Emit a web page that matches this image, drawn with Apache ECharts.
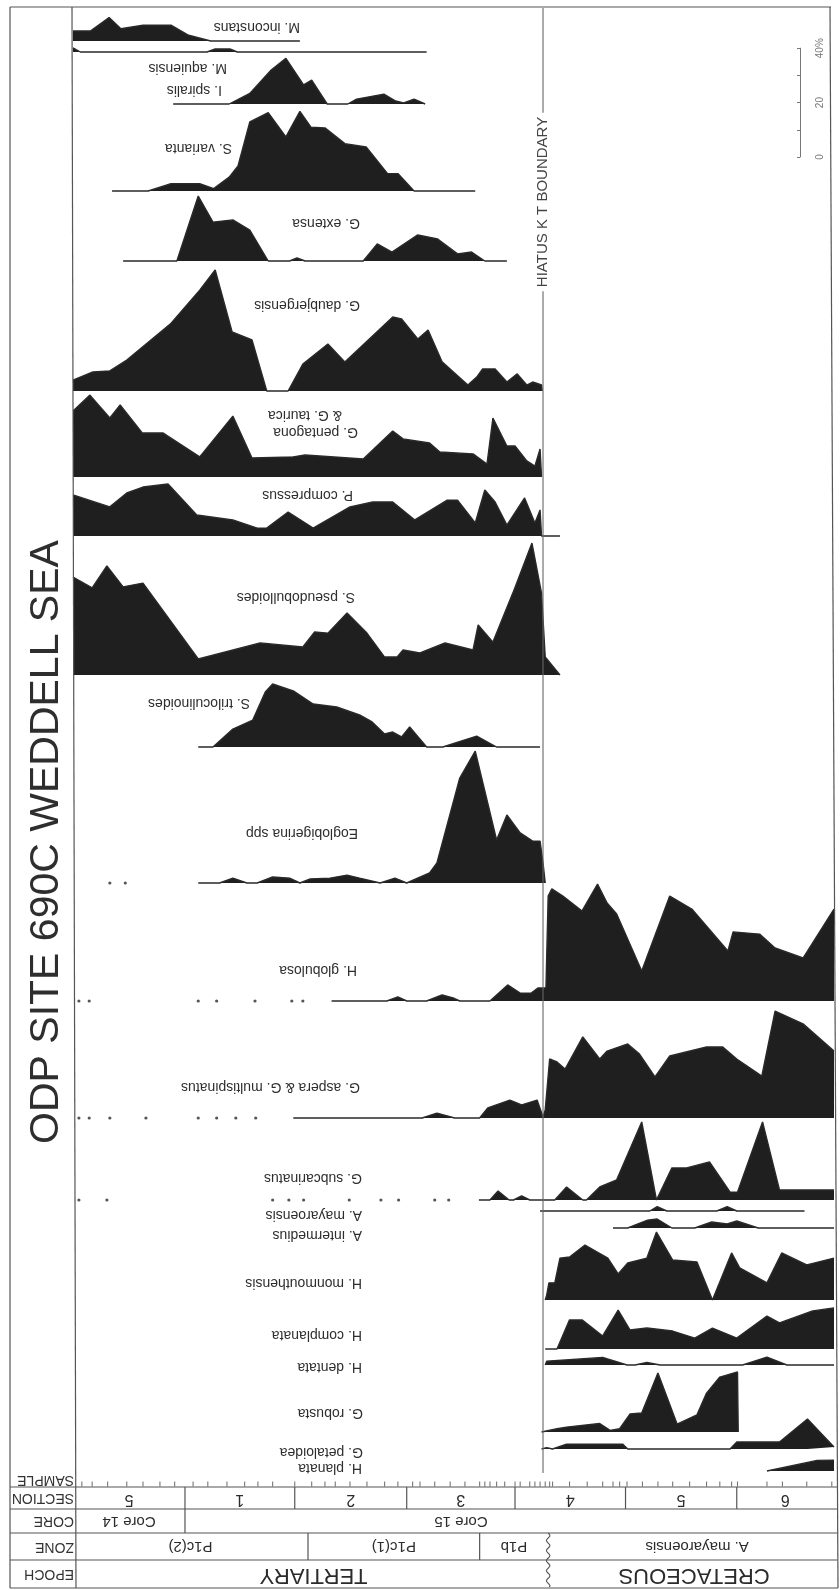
<!DOCTYPE html>
<html>
<head>
<meta charset="utf-8">
<script src="https://cdn.jsdelivr.net/npm/echarts@6/dist/echarts.min.js"></script>
<style>
html,body{margin:0;padding:0;background:#fff}
#c{width:840px;height:1590px}
</style>
</head>
<body>
<div id="c"></div>
<script>
// Depth: cm below the top of Core 14 section 5 (150 cm per section). Abundance: % of assemblage.
const inconstans = [[0,3.7],[24,3.7],[49,8.6],[65,4.5],[95,5.8],[133,5.8],[157,2.1],[187,0],[308,0]];
const aquiensis = [[0,1.5],[10,0],[182,0],[193,1.1],[213,1.1],[223,0],[480,0]];
const spiralis = [[136,0],[212,0],[240,3.9],[269,12.5],[289,16.8],[313,7],[324,8.8],[345,0],[373,0],[385,1.8],[422,3.6],[438,1.1],[449,0.4],[463,1.8],[478,0]];
const varianta = [[53,0],[102,0],[133,2.7],[172,2.7],[191,0.9],[212,5.1],[224,9.2],[240,25.4],[265,28.8],[289,19.9],[308,29.3],[323,23.5],[342,23.2],[369,17.4],[398,16.2],[427,6.4],[441,6.4],[463,0],[546,0]];
const extensa = [[68,0],[141,0],[170,23.9],[190,14.3],[217,15.1],[240,11.4],[265,0],[294,0],[304,1.1],[315,0],[394,0],[413,6.3],[433,3.3],[468,9.6],[495,8.1],[522,2.6],[541,3.3],[559,0],[589,0]];
const daubjergensis = [[0,4],[27,7],[50,7.4],[73,11.4],[132,24.6],[172,37.1],[193,44.5],[216,21.7],[243,18.8],[263,0],[292,0],[312,9.9],[346,17.3],[369,10.7],[434,27.2],[446,26.5],[468,19.1],[482,22.4],[501,10.7],[536,2.2],[548,5.1],[556,8.1],[573,8.1],[589,3.3],[603,6.3],[616,2.2],[624,3.3],[636,2.2],[637,0]];
const pentagona = [[0,24.3],[23,30.1],[50,21.7],[64,26.5],[94,16.2],[122,16.2],[172,7.4],[217,22.4],[243,7],[299,7.4],[315,8.1],[394,6.6],[434,16.9],[448,14],[484,12.5],[498,9.2],[543,8.5],[562,4.8],[570,21.7],[589,11.4],[600,11.4],[616,5.9],[627,4],[634,10.3],[636,0]];
const compressus = [[0,15.1],[50,10.7],[73,15.8],[95,18],[129,19.1],[168,7.7],[217,5.9],[250,2.9],[263,2.9],[292,8.8],[326,2.9],[376,10.7],[407,12.5],[434,12.5],[464,5.9],[508,13.2],[522,13.2],[546,4.8],[559,16.9],[573,12.5],[589,4],[613,14],[627,4.8],[634,9.6],[636,0],[661,0]];
const pseudobulloides = [[0,36],[26,32],[46,40.1],[68,32.4],[95,33.8],[170,5.9],[254,11.8],[312,10.3],[328,15.8],[346,15.4],[372,22.8],[399,15.4],[423,6.6],[440,6.6],[448,9.2],[471,8.1],[505,11.8],[543,9.2],[550,18.4],[570,12.1],[597,30.1],[623,48.5],[636,30.1],[641,6.6],[661,0]];
const triloculinoides = [[170,0],[190,0],[217,6.6],[244,9.9],[261,20.2],[271,23.2],[300,20.5],[326,15.8],[358,14.7],[389,11.8],[406,9.2],[423,4.8],[434,5.5],[446,3.7],[457,7.4],[480,0],[502,0],[548,4],[575,0],[634,0]];
const eoglobigerina = [[170,0],[199,0],[217,1.8],[236,0],[250,0],[271,2.2],[294,1.8],[308,0],[322,1.5],[349,1.8],[372,2.9],[389,1.8],[417,0],[437,1.8],[453,0],[484,3.7],[494,7.4],[525,38.6],[546,48.5],[575,15.8],[589,25],[607,18.4],[624,15.4],[634,15.4],[638,7.4],[641,0]];
const eoglobigerinaRare = [50,71];
const globulosa = [[351,0],[426,0],[441,1.5],[453,0],[480,0],[501,2.2],[516,1.1],[525,0],[566,0],[590,5.9],[607,2.9],[622,2.9],[631,4.8],[642,4.8],[645,38.6],[650,41.2],[665,38.6],[691,33.1],[712,43],[725,36],[738,32],[772,11],[810,38.6],[840,33.8],[889,18.4],[896,25.4],[932,24.6],[953,19.5],[991,15.8],[1033,33.8]];
const globulosaRare = [8,22,170,195,247,297,312];
const aspera = [[299,0],[474,0],[494,1.8],[518,0],[552,0],[563,3.7],[593,6.6],[609,4.8],[630,6.6],[638,0.4],[641,3],[647,21.7],[657,20.6],[668,18],[692,29.8],[715,21.7],[725,24.6],[753,27.2],[769,23.5],[790,15.1],[810,22.8],[860,26.1],[882,26.1],[901,21.7],[935,15.4],[953,39.3],[991,34.6],[1033,24.6]];
const asperaRare = [8,22,50,99,170,195,221,248];
const subcarinatus = [[551,0],[566,0],[577,3.3],[592,0],[598,0],[609,1.5],[620,0],[654,0],[670,4.8],[692,0],[697,0],[715,4.8],[738,7.4],[772,28.7],[792,0],[813,11.8],[833,11.8],[864,14],[892,2.9],[902,2.9],[936,28.7],[959,3.7],[1033,3.7]];
const subcarinatusRare = [8,46,271,293,313,375,418,442,491,510];
const mayaroensis = [[634,0],[783,0],[793,1.6],[806,0],[874,0],[888,1.6],[901,0],[993,0]];
const intermedius = [[733,0],[753,0],[780,2.9],[793,3.3],[813,0],[844,0],[867,2.2],[888,1.5],[901,2.6],[930,0],[1033,0]];
const monmouthensis = [[641,0],[643,1.8],[646,6.3],[654,6.3],[661,15.4],[674,15.8],[695,20.2],[726,15.4],[740,9.6],[753,13.6],[779,15.4],[792,25],[814,14.7],[847,14],[868,0],[894,17.3],[905,11.8],[942,6.3],[962,17.3],[996,12.9],[1033,15.4]];
const complanata = [[641,0],[657,0],[674,10.7],[691,10.7],[719,4.8],[740,14.3],[756,7],[779,7.7],[814,6.6],[844,4],[868,7.7],[901,4],[942,12.1],[959,9.6],[1004,14],[1033,15.1]];
const dentata = [[641,0],[643,1.4],[719,2.8],[752,0],[763,0],[779,0.9],[797,0],[909,0],[942,2.9],[969,0],[1033,0]];
const robusta = [[636,0],[657,1.2],[670,1.8],[715,3.1],[729,0.6],[742,1.2],[756,6.6],[772,7],[794,21.7],[820,2.9],[847,6.3],[860,14.3],[878,20.2],[902,22.1],[903,0]];
const petaloidea = [[636,0],[643,0.5],[651,0],[670,1.8],[746,1.8],[753,0],[892,0],[901,2.6],[959,2.6],[997,11],[1033,0.7]];
const planata = [[942,0],[1010,3.9],[1033,4]];

// Sample positions along the section
const sampleDepths = [12,26,47,73,95,118,138,163,183,209,233,251,271,301,324,342,356,376,399,423,441,461,471,491,512,532,552,559,566,575,586,600,607,620,627,634,641,647,651,674,698,719,733,742,752,773,794,814,837,860,878,894,902,942,963,996,1030];

// Stratigraphic framework
const sectionLabels = ['5','1','2','3','4','5','6'];
const sectionStarts = [0,152,301,453,600,750,901];
const coreLabels = ['Core 14','Core 15'];
const coreStarts = [0,152];
const zoneLabels = ['P1c(2)','P1c(1)','P1b','A. mayaroensis'];
const zoneStarts = [0,319,552,645];
const epochLabels = ['TERTIARY','CRETACEOUS'];
const epochStarts = [0,645];
const hiatusDepth = 638;
const scaleTicks = [0,10,20,30,40];

const DEPTH_MAX = 1033;
const pxPerPct = 2.72;
const FONT = '"Liberation Sans", Arial, Helvetica, sans-serif';
const INK = '#1f1f1f';
const PLOT_LEFT = 73, PLOT_WIDTH = 761;

// strip layout: baseline (px) and upside-down label anchors
const strips = [
  {data: inconstans,      base: 41,   labels: [['M. inconstans',300,27]]},
  {data: aquiensis,       base: 52,   labels: [['M. aquiensis',227,68]]},
  {data: spiralis,        base: 104,  labels: [['I. spiralis',222,90]]},
  {data: varianta,        base: 191,  labels: [['S. varianta',232,148]]},
  {data: extensa,         base: 261,  labels: [['G. extensa',360,223]]},
  {data: daubjergensis,   base: 391,  labels: [['G. daubjergensis',360,305]]},
  {data: pentagona,       base: 477,  labels: [['G. pentagona',358,432],['& G. taurica',342,415]]},
  {data: compressus,      base: 536,  labels: [['P. compressus',353,495]]},
  {data: pseudobulloides, base: 675,  labels: [['S. pseudobulloides',355,597]]},
  {data: triloculinoides, base: 747,  labels: [['S. triloculinoides',250,703]]},
  {data: eoglobigerina,   base: 883,  labels: [['Eoglobigerina spp',358,833]], rare: eoglobigerinaRare},
  {data: globulosa,       base: 1001, labels: [['H. globulosa',357,970]], rare: globulosaRare},
  {data: aspera,          base: 1118, labels: [['G. aspera & G. multispinatus',360,1087]], rare: asperaRare},
  {data: subcarinatus,    base: 1200, labels: [['G. subcarinatus',362,1178]], rare: subcarinatusRare},
  {data: mayaroensis,     base: 1211, labels: [['A. mayaroensis',362,1215]]},
  {data: intermedius,     base: 1228, labels: [['A. intermedius',362,1235]]},
  {data: monmouthensis,   base: 1300, labels: [['H. monmouthensis',362,1283]]},
  {data: complanata,      base: 1349, labels: [['H. complanata',362,1335]]},
  {data: dentata,         base: 1365, labels: [['H. dentata',362,1367]]},
  {data: robusta,         base: 1432, labels: [['G. robusta',363,1413]]},
  {data: petaloidea,      base: 1449, labels: [['G. petaloidea',363,1452]]},
  {data: planata,         base: 1471, labels: [['H. planata',362,1468]]}
];

const chart = echarts.init(document.getElementById('c'), null, {renderer: 'canvas'});
const grids = [], xAxes = [], yAxes = [], series = [];

strips.forEach((s, i) => {
  const maxV = Math.max(...s.data.map(d => d[1]));
  const h = Math.ceil(maxV * pxPerPct) + 4;
  grids.push({left: PLOT_LEFT, width: PLOT_WIDTH, top: s.base - h, height: h});
  xAxes.push({gridIndex: i, type: 'value', min: 0, max: DEPTH_MAX, show: false});
  yAxes.push({gridIndex: i, type: 'value', min: 0, max: h / pxPerPct, show: false});
  series.push({
    type: 'line', xAxisIndex: i, yAxisIndex: i, data: s.data,
    symbol: 'none', clip: false, silent: true, z: 2,
    lineStyle: {color: '#2a2a2a', width: 1.4},
    areaStyle: {color: INK, opacity: 1}
  });
  if (s.rare) {
    series.push({
      type: 'scatter', xAxisIndex: i, yAxisIndex: i, silent: true, clip: false,
      data: s.rare.map(d => [d, 0]), symbolSize: 3.2, itemStyle: {color: '#2a2a2a'}
    });
  }
});

// sample tick row
const sIdx = grids.length;
grids.push({left: PLOT_LEFT, width: PLOT_WIDTH, top: 1481, height: 6});
xAxes.push({gridIndex: sIdx, type: 'value', min: 0, max: DEPTH_MAX, show: false});
yAxes.push({gridIndex: sIdx, type: 'value', min: 0, max: 1, show: false});
series.push({
  type: 'scatter', xAxisIndex: sIdx, yAxisIndex: sIdx, silent: true, clip: false,
  data: sampleDepths.map(d => [d, 0.5]), symbol: 'rect', symbolSize: [1.1, 5],
  itemStyle: {color: '#555'}
});

// abundance scale bar (0-40 %)
const bIdx = grids.length;
grids.push({left: 800, width: 10, top: 157 - 40 * pxPerPct, height: 40 * pxPerPct});
xAxes.push({gridIndex: bIdx, type: 'value', min: 0, max: 1, show: false});
yAxes.push({
  gridIndex: bIdx, type: 'value', min: 0, max: 40, interval: 10, position: 'right',
  axisLine: {show: true, lineStyle: {color: '#777', width: 1}},
  axisTick: {show: true, inside: true, length: 3, lineStyle: {color: '#777'}},
  splitLine: {show: false},
  axisLabel: {
    show: true, rotate: 90, margin: 5, color: '#777', fontSize: 10, fontFamily: FONT,
    formatter: v => (v === 40 ? '40%' : (v % 20 === 0 ? String(v) : ''))
  }
});
series.push({type: 'line', xAxisIndex: bIdx, yAxisIndex: bIdx, data: [], silent: true});

chart.setOption({
  animation: false,
  backgroundColor: '#fff',
  grid: grids, xAxis: xAxes, yAxis: yAxes, series: series
});

// ---- frame, table and text ----
const px = v => chart.convertToPixel({xAxisIndex: 0}, v);
const G = [];
const line = (x1, y1, x2, y2, w, c) => G.push({
  type: 'line', z: 50, silent: true,
  shape: {x1, y1, x2, y2}, style: {stroke: c || '#555', lineWidth: w || 1.2}
});
const text = (t, x, y, size, rot, align, extra) => G.push({
  type: 'text', z: 60, silent: true, x, y, rotation: rot,
  style: Object.assign({
    text: t, fill: '#2b2b2b', fontSize: size, fontFamily: FONT,
    align: align, verticalAlign: 'middle', textAlign: align, textVerticalAlign: 'middle'
  }, extra || {})
});

const TOP = 7, BOTTOM = 1588, OUT_L = 10, RIGHT_T = 830, RIGHT_B = 838;
const ROWS = [1487, 1509, 1533, 1560, BOTTOM];

// outer frame
line(OUT_L, TOP, RIGHT_T + 1, TOP);
line(OUT_L, TOP, OUT_L, BOTTOM);
line(72, TOP, 76, BOTTOM);
line(RIGHT_T, TOP, RIGHT_B, BOTTOM);
line(OUT_L, BOTTOM, RIGHT_B, BOTTOM);
ROWS.slice(0, 4).forEach(y => line(OUT_L, y, RIGHT_B - 0.5, y));

// section row
sectionStarts.forEach((s, i) => {
  const x0 = px(s);
  const x1 = i + 1 < sectionStarts.length ? px(sectionStarts[i + 1]) : px(DEPTH_MAX);
  if (i > 0) line(x0, ROWS[0], x0, ROWS[1]);
  text(sectionLabels[i], (x0 + x1) / 2, (ROWS[0] + ROWS[1]) / 2 + 1, 16, Math.PI, 'center');
});
// core row
const coreCentres = [(px(coreStarts[0]) + px(coreStarts[1])) / 2, 461];
coreStarts.forEach((s, i) => {
  if (i > 0) line(px(s), ROWS[1], px(s), ROWS[2]);
  text(coreLabels[i], coreCentres[i], (ROWS[1] + ROWS[2]) / 2, 15, Math.PI, 'center');
});
// zone row
zoneStarts.forEach((s, i) => {
  const x0 = px(s);
  const x1 = i + 1 < zoneStarts.length ? px(zoneStarts[i + 1]) : px(DEPTH_MAX);
  if (i > 0 && i < zoneStarts.length - 1) line(x0, ROWS[2], x0, ROWS[3]);
  text(zoneLabels[i], (x0 + x1) / 2 + (i === 3 ? 6 : 0), (ROWS[2] + ROWS[3]) / 2, 15, Math.PI, 'center');
});
// epoch row
epochStarts.forEach((s, i) => {
  const x0 = px(s);
  const x1 = i + 1 < epochStarts.length ? px(epochStarts[i + 1]) : px(DEPTH_MAX);
  text(epochLabels[i], (x0 + x1) / 2 + 3, (ROWS[3] + ROWS[4]) / 2 + 1, 22, Math.PI, 'center');
});
// wavy unconformity through zone and epoch rows
(function () {
  const cx = px(epochStarts[1]);
  const pts = [];
  for (let y = ROWS[2]; y <= BOTTOM; y += 1.5) pts.push([cx + 1.8 * Math.sin((y - ROWS[2]) / 1.6), y]);
  G.push({type: 'polyline', z: 50, silent: true, shape: {points: pts}, style: {stroke: '#555', lineWidth: 1.1, fill: null}});
})();

// row headers
[['SAMPLE', 1480], ['SECTION', 1498], ['CORE', 1521], ['ZONE', 1547], ['EPOCH', 1574]].forEach(r => {
  text(r[0], 74, r[1], 14, Math.PI, 'left', {fill: '#333'});
});

// hiatus at the K/T boundary
const hx = px(hiatusDepth);
line(hx, 8, hx, 1473, 1.1, '#666');
text('HIATUS K T BOUNDARY', hx, 202, 15, Math.PI / 2, 'center',
  {fill: '#444', backgroundColor: '#fff', padding: [2, 4]});

// species names
strips.forEach(s => s.labels.forEach(l => text(l[0], l[1], l[2], 14, Math.PI, 'left', {fill: '#2e2e2e'})));

// title
text('ODP SITE 690C WEDDELL SEA', 47, 842, 41, Math.PI / 2, 'center', {fill: '#2e2e2e'});

chart.setOption({graphic: {elements: G}});
</script>
</body>
</html>
